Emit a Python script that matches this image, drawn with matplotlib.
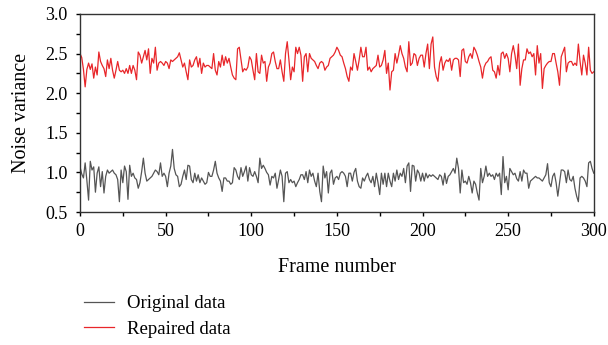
import matplotlib
matplotlib.use("Agg")
import matplotlib.pyplot as plt
import numpy as np

plt.rcParams['font.family'] = ['Liberation Serif', 'DejaVu Serif']

# noise variance per frame
original = [
    1.07, 0.98, 0.93, 1.12, 0.90, 0.65, 1.14, 1.03, 1.07, 0.75,
    0.99, 1.07, 0.82, 1.01, 0.74, 0.95, 1.03, 0.99, 1.01, 1.03,
    0.99, 0.97, 0.91, 0.63, 1.03, 0.87, 1.08, 1.01, 0.66, 1.09,
    0.95, 0.99, 0.93, 0.91, 0.80, 0.87, 1.01, 1.18, 0.99, 0.89,
    0.91, 0.93, 0.95, 0.99, 1.03, 1.01, 0.97, 1.12, 0.95, 0.99,
    0.95, 0.82, 0.99, 1.08, 1.29, 1.05, 0.97, 0.95, 0.82, 0.85,
    0.95, 1.03, 0.91, 1.09, 1.08, 0.91, 0.87, 0.99, 0.89, 0.97,
    0.87, 0.93, 0.89, 0.85, 0.87, 1.00, 0.95, 0.95, 1.03, 1.14,
    0.99, 0.93, 0.89, 0.76, 0.93, 0.93, 0.89, 0.89, 0.85, 0.87,
    1.06, 1.03, 0.95, 0.91, 1.06, 0.95, 1.01, 1.08, 0.89, 1.06,
    0.97, 0.95, 1.01, 0.95, 0.87, 1.18, 1.05, 1.09, 1.05, 1.00,
    0.97, 0.84, 0.95, 0.93, 0.99, 0.80, 0.91, 1.03, 0.95, 0.63,
    0.99, 1.01, 0.87, 0.91, 0.87, 0.89, 0.82, 0.87, 0.91, 0.97,
    0.97, 0.91, 1.01, 0.87, 1.03, 0.95, 0.99, 0.89, 0.82, 0.99,
    0.76, 0.63, 1.08, 0.93, 1.01, 0.74, 0.99, 1.03, 0.85, 0.93,
    0.95, 0.91, 0.99, 1.01, 0.99, 0.95, 0.82, 0.99, 0.99, 0.89,
    1.00, 1.05, 0.89, 0.82, 0.80, 0.93, 0.89, 0.95, 0.99, 0.91,
    0.87, 0.95, 0.82, 0.99, 0.87, 0.72, 0.99, 0.85, 0.99, 0.82,
    0.99, 0.89, 0.82, 0.99, 0.89, 1.03, 0.91, 0.99, 0.95, 1.05,
    0.87, 1.08, 1.12, 0.76, 1.09, 1.08, 0.89, 1.03, 0.99, 0.89,
    0.99, 0.89, 0.99, 0.93, 0.97, 0.95, 0.97, 0.95, 0.93, 0.91,
    0.97, 0.95, 0.84, 0.99, 0.86, 0.95, 0.97, 1.01, 1.05, 0.99,
    1.18, 1.05, 0.74, 1.03, 0.87, 0.89, 0.85, 0.95, 0.87, 0.74,
    0.89, 0.85, 0.74, 0.65, 1.05, 0.87, 0.95, 1.08, 0.95, 0.99,
    0.95, 0.97, 0.91, 0.99, 0.95, 0.99, 0.72, 1.20, 0.87, 0.95,
    0.78, 1.05, 1.01, 0.97, 0.99, 0.92, 0.89, 1.01, 0.89, 1.03,
    0.99, 0.99, 0.80, 0.89, 0.91, 0.93, 0.95, 0.93, 0.93, 0.91,
    0.89, 0.93, 0.97, 1.11, 0.87, 0.82, 0.95, 0.99, 0.87, 0.70,
    0.87, 1.03, 1.03, 1.01, 0.87, 1.03, 0.91, 0.89, 0.95, 0.80,
    0.70, 0.63, 0.93, 0.95, 0.93, 0.89, 0.82, 1.12, 1.14, 1.05,
    0.99,
]

repaired = [
    2.50, 2.45, 2.30, 2.08, 2.30, 2.38, 2.30, 2.37, 2.19, 2.33,
    2.23, 2.52, 2.40, 2.35, 2.31, 2.21, 2.42, 2.31, 2.44, 2.29,
    2.19, 2.29, 2.40, 2.29, 2.27, 2.29, 2.25, 2.31, 2.25, 2.35,
    2.25, 2.35, 2.29, 2.17, 2.52, 2.48, 2.38, 2.46, 2.54, 2.42,
    2.56, 2.25, 2.44, 2.38, 2.58, 2.29, 2.38, 2.40, 2.38, 2.35,
    2.40, 2.38, 2.31, 2.42, 2.40, 2.42, 2.44, 2.46, 2.51, 2.42,
    2.33, 2.38, 2.27, 2.17, 2.42, 2.33, 2.35, 2.42, 2.46, 2.33,
    2.44, 2.25, 2.38, 2.33, 2.35, 2.35, 2.33, 2.31, 2.50, 2.29,
    2.23, 2.40, 2.33, 2.48, 2.35, 2.46, 2.38, 2.44, 2.33, 2.23,
    2.19, 2.17, 2.56, 2.58, 2.42, 2.27, 2.31, 2.29, 2.33, 2.46,
    2.42, 2.29, 2.17, 2.50, 2.27, 2.25, 2.48, 2.38, 2.40, 2.15,
    2.33, 2.38, 2.50, 2.52, 2.40, 2.31, 2.31, 2.42, 2.27, 2.15,
    2.50, 2.65, 2.42, 2.17, 2.33, 2.27, 2.58, 2.50, 2.58, 2.48,
    2.15, 2.46, 2.50, 2.27, 2.50, 2.44, 2.42, 2.40, 2.35, 2.31,
    2.38, 2.40, 2.38, 2.29, 2.33, 2.35, 2.44, 2.46, 2.48, 2.52,
    2.58, 2.54, 2.48, 2.46, 2.38, 2.31, 2.21, 2.15, 2.33, 2.29,
    2.50, 2.40, 2.29, 2.42, 2.58, 2.46, 2.46, 2.58, 2.29, 2.33,
    2.27, 2.31, 2.33, 2.35, 2.48, 2.33, 2.35, 2.42, 2.54, 2.25,
    2.38, 2.04, 2.27, 2.29, 2.50, 2.38, 2.48, 2.60, 2.50, 2.44,
    2.33, 2.27, 2.65, 2.35, 2.38, 2.50, 2.48, 2.35, 2.44, 2.48,
    2.48, 2.33, 2.50, 2.62, 2.31, 2.62, 2.71, 2.33, 2.21, 2.15,
    2.38, 2.46, 2.29, 2.38, 2.42, 2.40, 2.44, 2.29, 2.42, 2.44,
    2.44, 2.42, 2.21, 2.54, 2.56, 2.40, 2.38, 2.46, 2.50, 2.44,
    2.58, 2.54, 2.48, 2.40, 2.33, 2.19, 2.33, 2.38, 2.40, 2.44,
    2.46, 2.29, 2.27, 2.19, 2.35, 2.23, 2.50, 2.52, 2.44, 2.50,
    2.44, 2.27, 2.50, 2.60, 2.48, 2.31, 2.62, 2.10, 2.31, 2.42,
    2.42, 2.56, 2.50, 2.52, 2.46, 2.50, 2.23, 2.60, 2.38, 2.50,
    2.06, 2.31, 2.35, 2.38, 2.40, 2.40, 2.50, 2.50, 2.38, 2.27,
    2.10, 2.46, 2.52, 2.58, 2.27, 2.38, 2.40, 2.40, 2.35, 2.38,
    2.35, 2.62, 2.40, 2.23, 2.48, 2.38, 2.23, 2.58, 2.29, 2.25,
    2.27,
]

frames = np.arange(len(original))

fig = plt.figure(figsize=(6.08, 3.45), dpi=100)
ax = fig.add_axes([0.1316, 0.3855, 0.845, 0.574])

ax.plot(frames, original, color='#555555', lw=0.9, label='Original data')
ax.plot(frames, repaired, color='#e8262a', lw=0.9, label='Repaired data')

ax.set_xlim(0, 300)
ax.set_ylim(0.5, 3.0)
ax.set_xticks(np.arange(0, 301, 50))
ax.set_xticks(np.arange(0, 301, 25), minor=True)
ax.set_yticks(np.arange(0.5, 3.01, 0.5))
ax.set_yticks(np.arange(0.5, 3.01, 0.25), minor=True)
ax.set_yticklabels(['0.5', '1.0', '1.5', '2.0', '2.5', '3.0'])
ax.tick_params(which='both', direction='out', length=3, width=1, labelsize=13)
ax.tick_params(axis='y', pad=6)
ax.tick_params(axis='x', pad=5)
for s in ax.spines.values():
    s.set_linewidth(1.0)
    s.set_color('#333333')

ax.set_xlabel('Frame number', fontsize=14.5, labelpad=13)
ax.set_ylabel('Noise variance', fontsize=14.5, labelpad=10)

fig.legend(*ax.get_legend_handles_labels(), loc='upper left',
           bbox_to_anchor=(0.138, 0.145), frameon=False, fontsize=13.5,
           handlelength=1.6, handletextpad=0.7, labelspacing=0.45,
           borderpad=0, borderaxespad=0)

fig.savefig('out.png', dpi=100)
